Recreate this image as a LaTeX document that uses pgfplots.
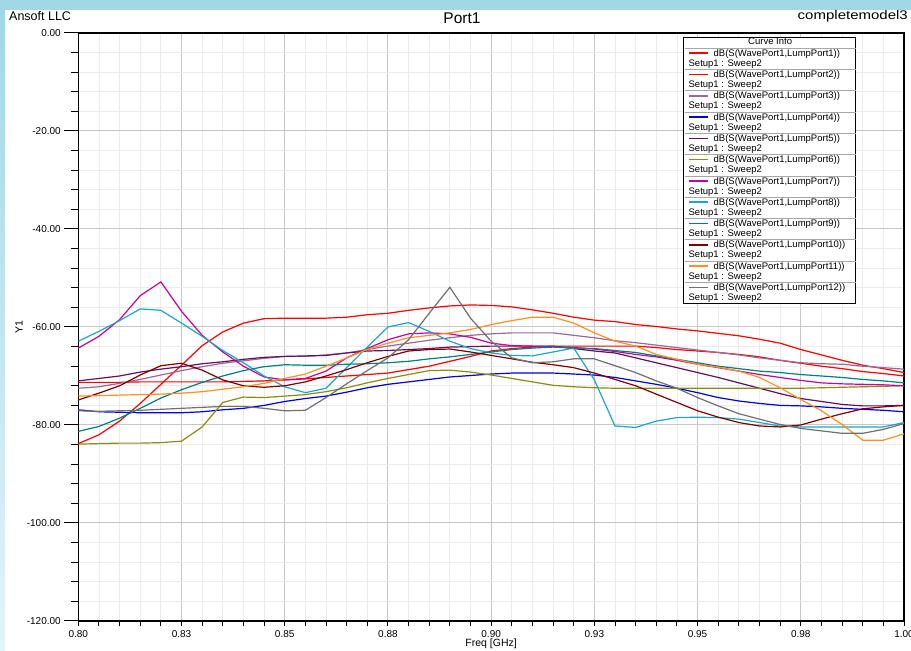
\documentclass[border=0pt]{standalone}
\usepackage{graphicx}
\usepackage{pgfplots}
\pgfplotsset{compat=1.18}
\usepackage{pgfplotstable}
\usepackage{fontspec}
\setmainfont{Liberation Sans}

\definecolor{cA}{HTML}{FF0000}
\definecolor{cB}{HTML}{FF0000}
\definecolor{cC}{HTML}{9A6A96}
\definecolor{cD}{HTML}{0000DD}
\definecolor{cE}{HTML}{62105F}
\definecolor{cF}{HTML}{8C8C14}
\definecolor{cG}{HTML}{CC0099}
\definecolor{cH}{HTML}{1AA8C8}
\definecolor{cI}{HTML}{008080}
\definecolor{cJ}{HTML}{800000}
\definecolor{cK}{HTML}{FF9020}
\definecolor{cL}{HTML}{707070}
\definecolor{bandblue}{HTML}{A0D8E6}
\definecolor{stripbot}{HTML}{E4F3F8}
\definecolor{sepgray}{HTML}{A8A8A8}

\pgfplotstableread{
f p1 p2 p3 p4 p5 p6 p7 p8 p9 p10 p11 p12
0.800 -71.3 -83.8 -72.5 -76.9 -71.0 -83.9 -64.3 -62.9 -81.3 -74.9 -74.1 -77.1
0.805 -71.3 -82.0 -72.2 -77.3 -70.5 -83.8 -61.9 -60.9 -80.3 -73.5 -74.0 -77.2
0.810 -71.3 -79.2 -71.5 -77.4 -70.0 -83.7 -58.5 -58.7 -78.6 -72.0 -73.9 -77.1
0.815 -71.2 -75.6 -70.7 -77.5 -69.2 -83.7 -53.6 -56.3 -76.6 -69.8 -73.8 -77.0
0.820 -71.2 -71.7 -69.8 -77.5 -68.6 -83.6 -50.8 -56.6 -74.5 -67.9 -73.7 -76.8
0.825 -71.2 -67.8 -68.9 -77.5 -68.1 -83.3 -56.8 -59.2 -72.8 -67.4 -73.5 -76.6
0.830 -71.2 -63.8 -68.1 -77.3 -67.5 -80.4 -61.7 -61.9 -71.3 -68.8 -73.2 -76.4
0.835 -71.2 -61.0 -67.4 -76.9 -67.1 -75.4 -65.1 -64.8 -70.0 -70.8 -72.7 -76.2
0.840 -71.1 -59.2 -66.9 -76.6 -66.6 -74.3 -68.0 -67.3 -68.9 -72.0 -72.2 -76.2
0.845 -71.0 -58.3 -66.4 -76.0 -66.2 -74.4 -70.2 -70.0 -68.1 -72.3 -71.5 -76.6
0.850 -70.8 -58.2 -66.0 -75.2 -66.0 -74.1 -70.8 -72.2 -67.7 -72.0 -70.5 -77.1
0.855 -70.6 -58.2 -66.0 -74.6 -65.9 -73.8 -70.5 -73.4 -67.8 -71.2 -69.6 -77.0
0.860 -70.3 -58.2 -65.7 -74.1 -65.8 -73.2 -69.0 -72.5 -67.8 -70.0 -68.0 -74.4
0.865 -70.0 -58.0 -65.3 -73.3 -65.3 -72.4 -66.3 -68.3 -67.6 -68.7 -66.3 -71.6
0.870 -69.7 -57.5 -64.6 -72.4 -64.9 -71.4 -64.4 -64.1 -67.5 -67.3 -64.6 -68.9
0.875 -69.4 -57.2 -63.9 -71.7 -64.8 -70.5 -62.6 -60.0 -67.3 -66.0 -63.3 -66.3
0.880 -68.7 -56.6 -63.3 -71.2 -64.6 -69.7 -61.4 -59.1 -67.0 -64.9 -62.2 -62.6
0.885 -68.0 -56.1 -62.7 -70.7 -64.4 -68.9 -61.2 -60.9 -66.5 -64.6 -61.7 -57.2
0.890 -67.0 -55.7 -62.2 -70.2 -64.1 -68.8 -61.4 -62.9 -66.1 -64.5 -61.2 -51.9
0.895 -66.0 -55.5 -61.7 -69.9 -64.0 -69.2 -62.1 -64.4 -65.6 -65.1 -60.5 -58.2
0.900 -64.9 -55.6 -61.4 -69.6 -63.9 -69.8 -63.3 -65.3 -65.1 -65.8 -59.5 -62.9
0.905 -64.4 -55.9 -61.2 -69.4 -63.9 -70.5 -63.8 -65.8 -64.6 -66.5 -58.7 -66.3
0.910 -64.1 -56.5 -61.2 -69.4 -63.9 -71.2 -63.9 -65.9 -64.3 -67.2 -58.0 -67.3
0.915 -63.9 -57.2 -61.2 -69.4 -63.9 -71.9 -64.0 -65.1 -64.1 -67.7 -58.0 -67.1
0.920 -63.9 -58.0 -61.7 -69.6 -64.4 -72.2 -64.2 -64.3 -64.3 -68.3 -59.2 -66.5
0.925 -63.9 -58.6 -62.2 -69.8 -64.9 -72.4 -64.5 -70.8 -64.4 -69.4 -61.2 -66.5
0.930 -63.9 -58.9 -62.8 -70.3 -65.3 -72.5 -65.0 -80.2 -64.8 -70.7 -62.9 -67.9
0.935 -63.9 -59.5 -63.2 -71.0 -66.3 -72.5 -65.6 -80.5 -65.2 -72.0 -63.9 -69.3
0.940 -64.2 -59.9 -63.7 -71.7 -67.3 -72.5 -66.1 -79.2 -65.9 -73.7 -65.6 -71.0
0.945 -64.6 -60.4 -64.2 -72.5 -68.3 -72.5 -66.8 -78.5 -66.6 -75.4 -66.6 -72.5
0.950 -64.9 -60.8 -64.7 -73.4 -69.3 -72.5 -67.6 -78.4 -67.3 -77.1 -67.6 -74.4
0.955 -65.2 -61.3 -65.2 -74.4 -70.3 -72.5 -68.3 -78.5 -68.0 -78.4 -68.2 -76.1
0.960 -65.6 -61.8 -65.7 -75.1 -71.4 -72.5 -69.0 -78.8 -68.5 -79.5 -69.0 -77.7
0.965 -66.1 -62.5 -66.3 -75.6 -72.5 -72.5 -69.7 -79.5 -69.0 -80.2 -70.3 -78.8
0.970 -66.8 -63.3 -66.8 -76.0 -73.6 -72.5 -70.3 -80.2 -69.3 -80.4 -72.4 -79.9
0.975 -67.4 -64.6 -67.3 -76.1 -74.6 -72.5 -70.9 -80.4 -69.7 -80.0 -74.8 -80.7
0.980 -68.0 -65.7 -67.5 -76.3 -75.2 -72.4 -71.4 -80.4 -70.0 -78.8 -77.1 -81.2
0.985 -68.5 -66.8 -67.6 -76.6 -75.8 -72.3 -71.6 -80.4 -70.3 -77.7 -79.9 -81.7
0.990 -69.1 -67.8 -68.0 -76.8 -76.1 -72.2 -71.7 -80.4 -70.7 -76.7 -83.1 -81.7
0.995 -69.5 -68.5 -68.3 -77.0 -76.1 -72.1 -71.8 -80.4 -71.0 -76.3 -83.1 -80.9
1.000 -70.0 -69.3 -68.6 -77.3 -76.0 -72.0 -72.0 -79.5 -71.4 -76.0 -81.8 -79.7
}\data

% separator rule at the top of each legend entry, and colour swatch (no effect on size)
\newcommand{\seprule}{\smash{\rlap{\hspace*{-29pt}\raisebox{7.8pt}{\textcolor{sepgray}{\rule{171pt}{0.7pt}}}}}}
\newcommand{\swatch}[1]{\smash{\llap{\textcolor{#1}{\rule[2.3pt]{19pt}{1.6pt}}\hspace*{5.5pt}}}}
\newcommand{\entry}[2]{\parbox[t]{142pt}{\rule{0pt}{8pt}\seprule\swatch{#2}dB(S(WavePort1,LumpPort#1))\\\hspace*{-25pt}Setup1 : Sweep2\rule[-3.3pt]{0pt}{0pt}}}

\begin{document}
\begin{tikzpicture}
\path[use as bounding box] (-78.3pt,-30pt) rectangle (832.7pt,621pt);
\fill[white] (-78.3pt,-30pt) rectangle (832.7pt,621pt);
\fill[bandblue] (-78.3pt,611pt) rectangle (832.7pt,621pt);
\shade[top color=bandblue, bottom color=stripbot] (-78.3pt,-30pt) rectangle (-73.3pt,611pt);

\begin{axis}[
  at={(0pt,0pt)}, anchor=south west,
  scale only axis, width=825.7pt, height=588pt,
  xmin=0.8, xmax=1.0, ymin=-120, ymax=0,
  xtick={0.8,0.825,0.85,0.875,0.9,0.925,0.95,0.975,1.0},
  xticklabels={0.80,0.83,0.85,0.88,0.90,0.93,0.95,0.98,1.00},
  ytick={-120,-100,-80,-60,-40,-20,0},
  yticklabels={-120.00,-100.00,-80.00,-60.00,-40.00,-20.00,0.00},
  minor x tick num=4, minor y tick num=4,
  grid=both,
  major grid style={draw=black!22, line width=1pt},
  minor grid style={draw=black!8, line width=0.8pt},
  axis line style={line width=1.3pt, black},
  tick pos=left, tick align=outside,
  major tick length=14pt, minor tick length=7pt,
  xtick style={/pgfplots/major tick length=5pt,/pgfplots/minor tick length=5pt},
  every tick/.style={black, line width=1pt},
  tick label style={font=\fontsize{10}{12}\selectfont},
  xticklabel style={yshift=8pt},
  xlabel={Freq [GHz]}, ylabel={Y1},
  label style={font=\fontsize{10.5}{12}\selectfont},
  xlabel style={at={(axis description cs:0.5,-0.0395)}, anchor=center},
  ylabel style={at={(axis description cs:-0.0718,0.5)}, anchor=center},
  legend style={at={(0.7324,0.9932)}, anchor=north west, draw=black, line width=0.8pt,
    fill=white, inner sep=0pt, column sep=5.5pt, row sep=0pt,
    font=\fontsize{9.5}{10}\selectfont,
    nodes={inner sep=0pt, text depth={}},
    cells={anchor=base west}},
  legend image code/.code={\path (-4.5pt,0pt) (19pt,0pt);},
  every axis plot/.append style={line width=1.2pt},
]
\addlegendimage{empty legend}
\addlegendentry{\parbox[t]{142pt}{\rule[-4pt]{0pt}{10pt}\hspace*{-29pt}\makebox[171pt][c]{Curve Info}}}
\addplot[cA] table[x=f,y=p1] {\data}; \addlegendentry{\entry{1}{cA}}
\addplot[cB] table[x=f,y=p2] {\data}; \addlegendentry{\entry{2}{cB}}
\addplot[cC] table[x=f,y=p3] {\data}; \addlegendentry{\entry{3}{cC}}
\addplot[cD] table[x=f,y=p4] {\data}; \addlegendentry{\entry{4}{cD}}
\addplot[cE] table[x=f,y=p5] {\data}; \addlegendentry{\entry{5}{cE}}
\addplot[cF] table[x=f,y=p6] {\data}; \addlegendentry{\entry{6}{cF}}
\addplot[cG] table[x=f,y=p7] {\data}; \addlegendentry{\entry{7}{cG}}
\addplot[cH] table[x=f,y=p8] {\data}; \addlegendentry{\entry{8}{cH}}
\addplot[cI] table[x=f,y=p9] {\data}; \addlegendentry{\entry{9}{cI}}
\addplot[cJ] table[x=f,y=p10] {\data}; \addlegendentry{\entry{10}{cJ}}
\addplot[cK] table[x=f,y=p11] {\data}; \addlegendentry{\entry{11}{cK}}
\addplot[cL] table[x=f,y=p12] {\data}; \addlegendentry{\entry{12}{cL}}
\end{axis}

\node[anchor=west, inner sep=0pt, font=\fontsize{12.5}{14}\selectfont] at (-69.3pt,605pt) {Ansoft LLC};
\node[inner sep=0pt, font=\fontsize{15.5}{17}\selectfont] at (383.7pt,602.5pt) {Port1};
\node[anchor=east, inner sep=0pt, font=\fontsize{12.5}{14}\selectfont] at (829.7pt,605pt) {\scalebox{1.2}[1]{completemodel3}};
\end{tikzpicture}
\end{document}
